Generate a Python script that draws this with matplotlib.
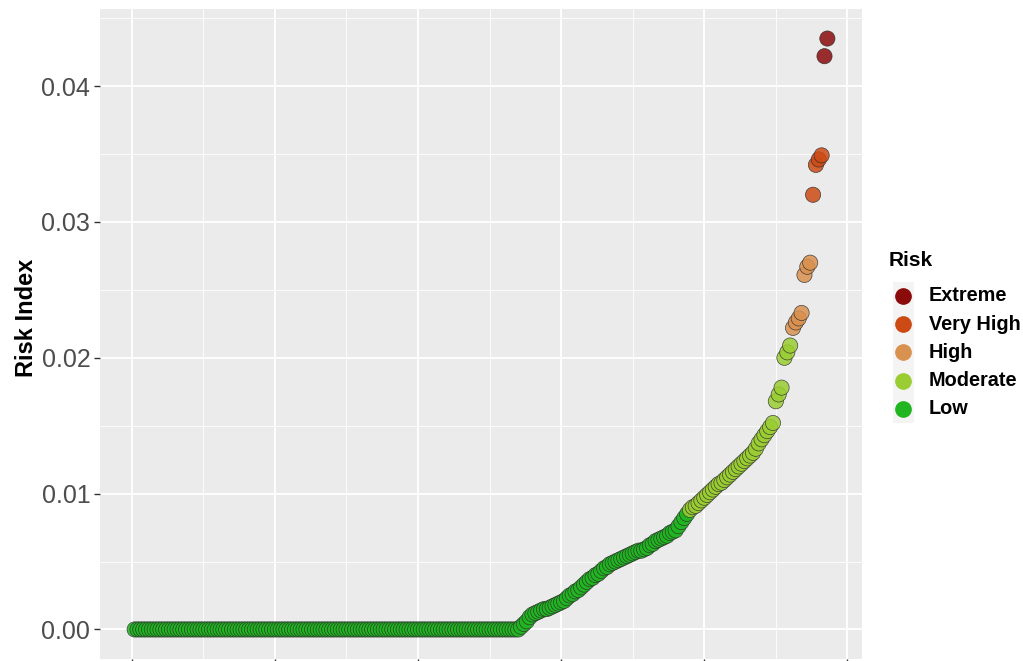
import matplotlib
matplotlib.use("Agg")
import matplotlib.pyplot as plt
from matplotlib.lines import Line2D
from matplotlib.patches import Rectangle
import numpy as np

plt.rcParams["font.family"] = ["Liberation Sans", "DejaVu Sans"]

# Risk index per site, sorted ascending (rank 1..243)
zeros = [0.0] * 135
low_rising = [
    0.0002, 0.0004, 0.0006, 0.0009, 0.0011, 0.0012, 0.0013, 0.0014, 0.0015, 0.0015,
    0.0016, 0.0017, 0.0018, 0.0019, 0.0020, 0.0021, 0.0023, 0.0025, 0.0026, 0.0028,
    0.0029, 0.0031, 0.0033, 0.0035, 0.0037, 0.0038, 0.0040, 0.0041, 0.0043, 0.0045,
    0.0046, 0.0048, 0.0049, 0.0050, 0.0051, 0.0052, 0.0053, 0.0054, 0.0055, 0.0056,
    0.0057, 0.0058, 0.0058, 0.0059, 0.0060, 0.0062, 0.0063, 0.0065, 0.0066, 0.0067,
    0.0068, 0.0069, 0.0071, 0.0072, 0.0073, 0.0076, 0.0079, 0.0082, 0.0085,
]
moderate = [
    0.0088, 0.0090, 0.0091, 0.0093, 0.0095, 0.0097, 0.0099, 0.0101, 0.0103, 0.0105,
    0.0107, 0.0108, 0.0110, 0.0112, 0.0114, 0.0116, 0.0118, 0.0120, 0.0122, 0.0124,
    0.0126, 0.0128, 0.0130, 0.0133, 0.0137, 0.0140, 0.0143, 0.0146, 0.0149, 0.0152,
    0.0168, 0.0173, 0.0178, 0.0200, 0.0204, 0.0209,
]
high = [0.0222, 0.0226, 0.0229, 0.0233, 0.0261, 0.0267, 0.0270]
very_high = [0.0320, 0.0342, 0.0346, 0.0349]
extreme = [0.0422, 0.0435]

risk_levels = ["Extreme", "Very High", "High", "Moderate", "Low"]
risk_colors = {
    "Extreme": "#8B0A0A",
    "Very High": "#CC4A14",
    "High": "#D9914F",
    "Moderate": "#9ACD32",
    "Low": "#21B521",
}

values = zeros + low_rising + moderate + high + very_high + extreme
labels = (["Low"] * (len(zeros) + len(low_rising)) + ["Moderate"] * len(moderate)
          + ["High"] * len(high) + ["Very High"] * len(very_high)
          + ["Extreme"] * len(extreme))

values = np.array(values)
rank = np.arange(1, len(values) + 1)
point_colors = [risk_colors[l] for l in labels]

W, H = 1023, 661
fig = plt.figure(figsize=(W / 100, H / 100), dpi=100)
ax = fig.add_axes([100 / W, 2 / H, 762 / W, 650 / H])
ax.set_facecolor("#EBEBEB")

ax.scatter(rank, values, s=120, c=point_colors, edgecolors="#2b2b2b",
           linewidths=0.5, alpha=0.85, zorder=3)

# ggplot-like expansion of 5% on each side
xr = rank.max() - rank.min()
ax.set_xlim(rank.min() - 0.05 * xr, rank.max() + 0.05 * xr)
yr = values.max() - values.min()
ax.set_ylim(values.min() - 0.05 * yr, values.max() + 0.05 * yr)

ax.set_xticks(np.arange(0, 251, 50))
ax.set_xticks(np.arange(25, 251, 50), minor=True)
ax.set_xticklabels([])
ax.set_yticks([0.00, 0.01, 0.02, 0.03, 0.04])
ax.set_yticklabels(["0.00", "0.01", "0.02", "0.03", "0.04"])
ax.set_yticks([0.005, 0.015, 0.025, 0.035, 0.045], minor=True)

ax.grid(which="major", color="white", linewidth=1.3, zorder=0)
ax.grid(which="minor", color="white", linewidth=0.6, zorder=0)
ax.set_axisbelow(True)
for sp in ax.spines.values():
    sp.set_visible(False)

ax.tick_params(axis="both", which="major", color="#333333", length=4, width=1,
               labelsize=18, labelcolor="#4D4D4D", pad=3)
ax.tick_params(axis="both", which="minor", length=0)

ax.set_ylabel("Risk Index", fontsize=17, fontweight="bold")
ax.yaxis.set_label_coords((38 - 100) / 762, 0.525)

# Legend drawn in figure pixel coordinates
def fx(px):
    return px / W

def fy(py):
    return 1 - py / H

fig.text(fx(889), fy(260), "Risk", fontsize=15, fontweight="bold",
         ha="left", va="center")
row_y = [296, 324, 352, 381, 409]
fig.add_artist(Rectangle((fx(893), fy(423)), fx(21), (423 - 282) / H,
                         transform=fig.transFigure, facecolor="#F4F4F4",
                         edgecolor="none", zorder=1))
for lvl, py in zip(risk_levels, row_y):
    fig.add_artist(Line2D([fx(903)], [fy(py)], marker="o", linestyle="",
                          markersize=11, markerfacecolor=risk_colors[lvl],
                          markeredgecolor=risk_colors[lvl],
                          transform=fig.transFigure, zorder=2))
    fig.text(fx(929), fy(py), lvl, fontsize=14.3, fontweight="bold",
             ha="left", va="center")

fig.savefig("out.png", dpi=100)
